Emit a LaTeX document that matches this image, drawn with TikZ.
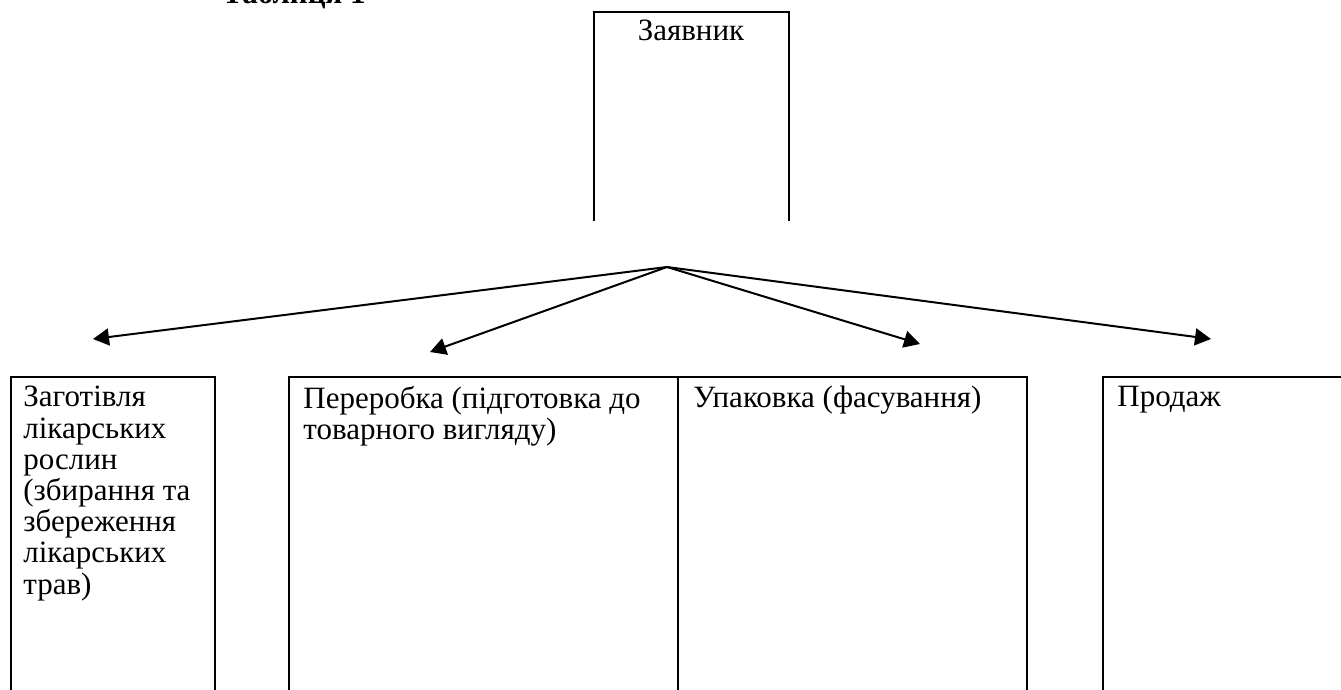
\documentclass[tikz,border=0pt]{standalone}
\usepackage{fontspec}
\setmainfont{Liberation Serif}
\usetikzlibrary{arrows.meta}
\begin{document}
\begin{tikzpicture}[x=0.5pt,y=-0.5pt,
  box/.style={draw, line width=0.75pt, rectangle, inner sep=0, anchor=north west, minimum height=165pt},
  lbl/.style={anchor=north west, inner sep=0, align=left, font=\fontsize{15.5pt}{15.6pt}\selectfont},
  conn/.style={line width=1pt, -{Triangle[length=8pt,width=8.5pt]}}]
\path[use as bounding box, clip] (0,0) rectangle (1341,690);
% title (cut off at the top)
\node[anchor=base west, inner sep=0, font=\fontsize{15.5pt}{15.6pt}\selectfont\bfseries] (title) at (222,4) {Таблиця 1};
% top box, open at the bottom
\node[inner sep=0, anchor=north west, minimum width=97pt, minimum height=104pt] (zav) at (594,12) {};
\draw[line width=0.75pt] (zav.south west) -- (zav.north west) -- (zav.north east) -- (zav.south east);
\node[anchor=base, inner sep=0, font=\fontsize{15.5pt}{15.6pt}\selectfont] (zavt) at (691,41) {Заявник};
% bottom boxes
\node[box, minimum width=102pt] (b1) at (10,376) {};
\node[box, minimum width=194.5pt] (b2) at (288,376) {};
\node[box, minimum width=174.5pt] (b3) at (677,376) {};
\node[box, minimum width=129pt] (b4) at (1102,376) {};
\node[lbl] (t1) at (23,386) {Заготівля\\лікарських\\рослин\\(збирання та\\збереження\\лікарських\\трав)};
\node[lbl] (t2) at (303,386) {Переробка (підготовка до\\товарного вигляду)};
\node[lbl] (t3) at (693,386) {Упаковка (фасування)};
\node[lbl] (t4) at (1117,386) {Продаж};
% connectors
\coordinate (hub) at (667,267);
\coordinate (e1) at (93,339);
\coordinate (e2) at (430,352);
\coordinate (e3) at (920,344);
\coordinate (e4) at (1211,339);
\draw[conn] (hub) -- (e1);
\draw[conn] (hub) -- (e2);
\draw[conn] (hub) -- (e3);
\draw[conn] (hub) -- (e4);
\end{tikzpicture}
\end{document}
